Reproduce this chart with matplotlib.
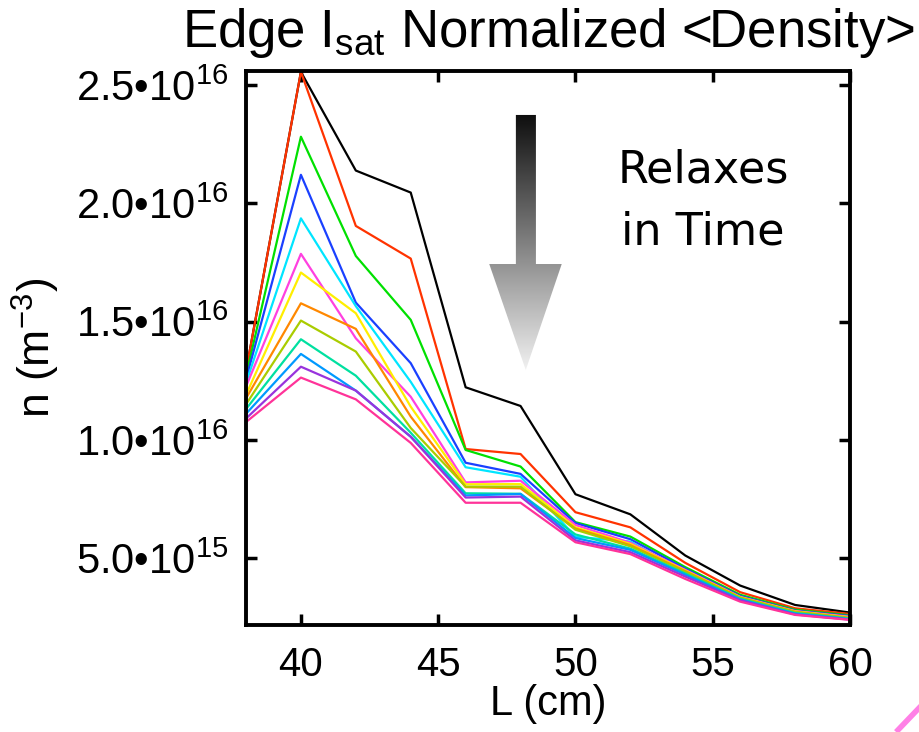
import numpy as np
import matplotlib
matplotlib.use("Agg")
import matplotlib.pyplot as plt
from matplotlib.patches import Polygon
from matplotlib.colors import LinearSegmentedColormap
from matplotlib.ticker import FuncFormatter
from matplotlib.lines import Line2D

plt.rcParams['font.family'] = ['Liberation Sans', 'DejaVu Sans']
plt.rcParams['mathtext.fontset'] = 'custom'
plt.rcParams['mathtext.rm'] = 'Liberation Sans'
plt.rcParams['mathtext.it'] = 'Liberation Sans'
plt.rcParams['mathtext.default'] = 'regular'

# probe position along the machine (cm)
L = [38, 40, 42, 44, 46, 48, 50, 52, 54, 56, 58, 60]

# density profiles, units of 1e16 m^-3, earliest (top) to latest (bottom)
n_black = [1.29, 2.555, 2.138, 2.045, 1.222, 1.143, 0.770, 0.685, 0.511, 0.384, 0.302, 0.270]
n_red = [1.29, 2.555, 1.904, 1.766, 0.961, 0.940, 0.694, 0.630, 0.480, 0.356, 0.288, 0.264]
n_green = [1.27, 2.281, 1.777, 1.507, 0.957, 0.887, 0.652, 0.591, 0.462, 0.345, 0.282, 0.258]
n_blue = [1.255, 2.120, 1.580, 1.324, 0.903, 0.856, 0.648, 0.580, 0.455, 0.340, 0.278, 0.255]
n_cyan = [1.24, 1.936, 1.565, 1.245, 0.884, 0.844, 0.590, 0.570, 0.440, 0.334, 0.272, 0.250]
n_magenta = [1.225, 1.786, 1.429, 1.182, 0.820, 0.827, 0.640, 0.565, 0.450, 0.336, 0.276, 0.252]
n_yellow = [1.19, 1.707, 1.535, 1.140, 0.812, 0.813, 0.630, 0.560, 0.448, 0.335, 0.275, 0.250]
n_orange = [1.175, 1.577, 1.469, 1.098, 0.800, 0.795, 0.625, 0.555, 0.445, 0.333, 0.273, 0.248]
n_ygreen = [1.15, 1.504, 1.373, 1.050, 0.802, 0.802, 0.620, 0.550, 0.442, 0.332, 0.272, 0.246]
n_teal = [1.13, 1.425, 1.271, 1.030, 0.774, 0.772, 0.600, 0.540, 0.435, 0.328, 0.268, 0.244]
n_dblue = [1.11, 1.363, 1.208, 1.013, 0.765, 0.771, 0.585, 0.535, 0.430, 0.325, 0.265, 0.242]
n_purple = [1.09, 1.309, 1.208, 1.013, 0.756, 0.760, 0.575, 0.525, 0.422, 0.322, 0.262, 0.240]
n_pink = [1.075, 1.263, 1.171, 0.987, 0.734, 0.734, 0.567, 0.517, 0.412, 0.316, 0.260, 0.239]

profiles = [n_black, n_red, n_green, n_blue, n_cyan, n_magenta, n_yellow,
            n_orange, n_ygreen, n_teal, n_dblue, n_purple, n_pink]
colors = ['#000000', '#ff3300', '#00e000', '#1a40ff', '#00e5ff', '#ff40e0', '#ffee00',
          '#ff8800', '#aacc00', '#00e0a0', '#0099ff', '#9933dd', '#ff3399']

fig = plt.figure(figsize=(9.2, 7.32), dpi=100)
ax = fig.add_axes([0.2674, 0.1462, 0.6565, 0.7572])

for prof, c in zip(profiles, colors):
    ax.plot(L, np.array(prof) * 1e16, color=c, lw=1.6)

xlim = (38, 60)
ylim = (0.2174e16, 2.56e16)

# gradient arrow "relaxes in time"
ax_x = [47.83, 48.56, 48.56, 49.50, 48.19, 46.86, 47.83]
ax_y = [2.373, 2.373, 1.743, 1.743, 1.295, 1.743, 1.743]
poly = Polygon(np.column_stack([ax_x, np.array(ax_y) * 1e16]), closed=True,
               fc='none', ec='none')
ax.add_patch(poly)
cmap = LinearSegmentedColormap.from_list('g', ['#0d0d0d', '#f2f2f2'])
grad = np.linspace(0, 1, 256).reshape(-1, 1)
im = ax.imshow(grad, cmap=cmap, aspect='auto', origin='upper',
               extent=[46.8, 49.6, 1.29e16, 2.38e16], zorder=3)
im.set_clip_path(poly)

ax.text(54.65, 2.01e16, 'Relaxes\nin Time', fontsize=32, family='DejaVu Sans',
        ha='center', va='center', linespacing=1.55)

ax.set_xlim(*xlim)
ax.set_ylim(*ylim)
ax.set_aspect('auto')

ax.set_xticks([40, 45, 50, 55, 60])
ax.set_yticks([0.5e16, 1.0e16, 1.5e16, 2.0e16, 2.5e16])


def sci(v, pos):
    e = int(np.floor(np.log10(v)))
    m = v / 10 ** e
    return f"{m:.1f}\u202210$^{{{e}}}$"


ax.yaxis.set_major_formatter(FuncFormatter(sci))
ax.tick_params(direction='in', length=8, width=2.5, top=True, right=True)
ax.tick_params(axis='x', pad=15, labelsize=29)
ax.tick_params(axis='y', pad=13, labelsize=30)
for s in ax.spines.values():
    s.set_linewidth(2.8)

ax.set_xlabel('L (cm)', fontsize=30, labelpad=0)
ax.set_ylabel('n (m$^{-3}$)', fontsize=32)
ax.yaxis.set_label_coords(-0.305, 0.5)
ax.set_title('Edge I$_{sat}$ Normalized <Density>', fontsize=38, pad=17)

# stray pink stroke at the lower right corner
fig.add_artist(Line2D([898 / 920, 1.0], [1 - 730 / 732, 1 - 707 / 732],
                      color='#ff80e6', lw=4, transform=fig.transFigure))

fig.savefig('out.png', dpi=100)
